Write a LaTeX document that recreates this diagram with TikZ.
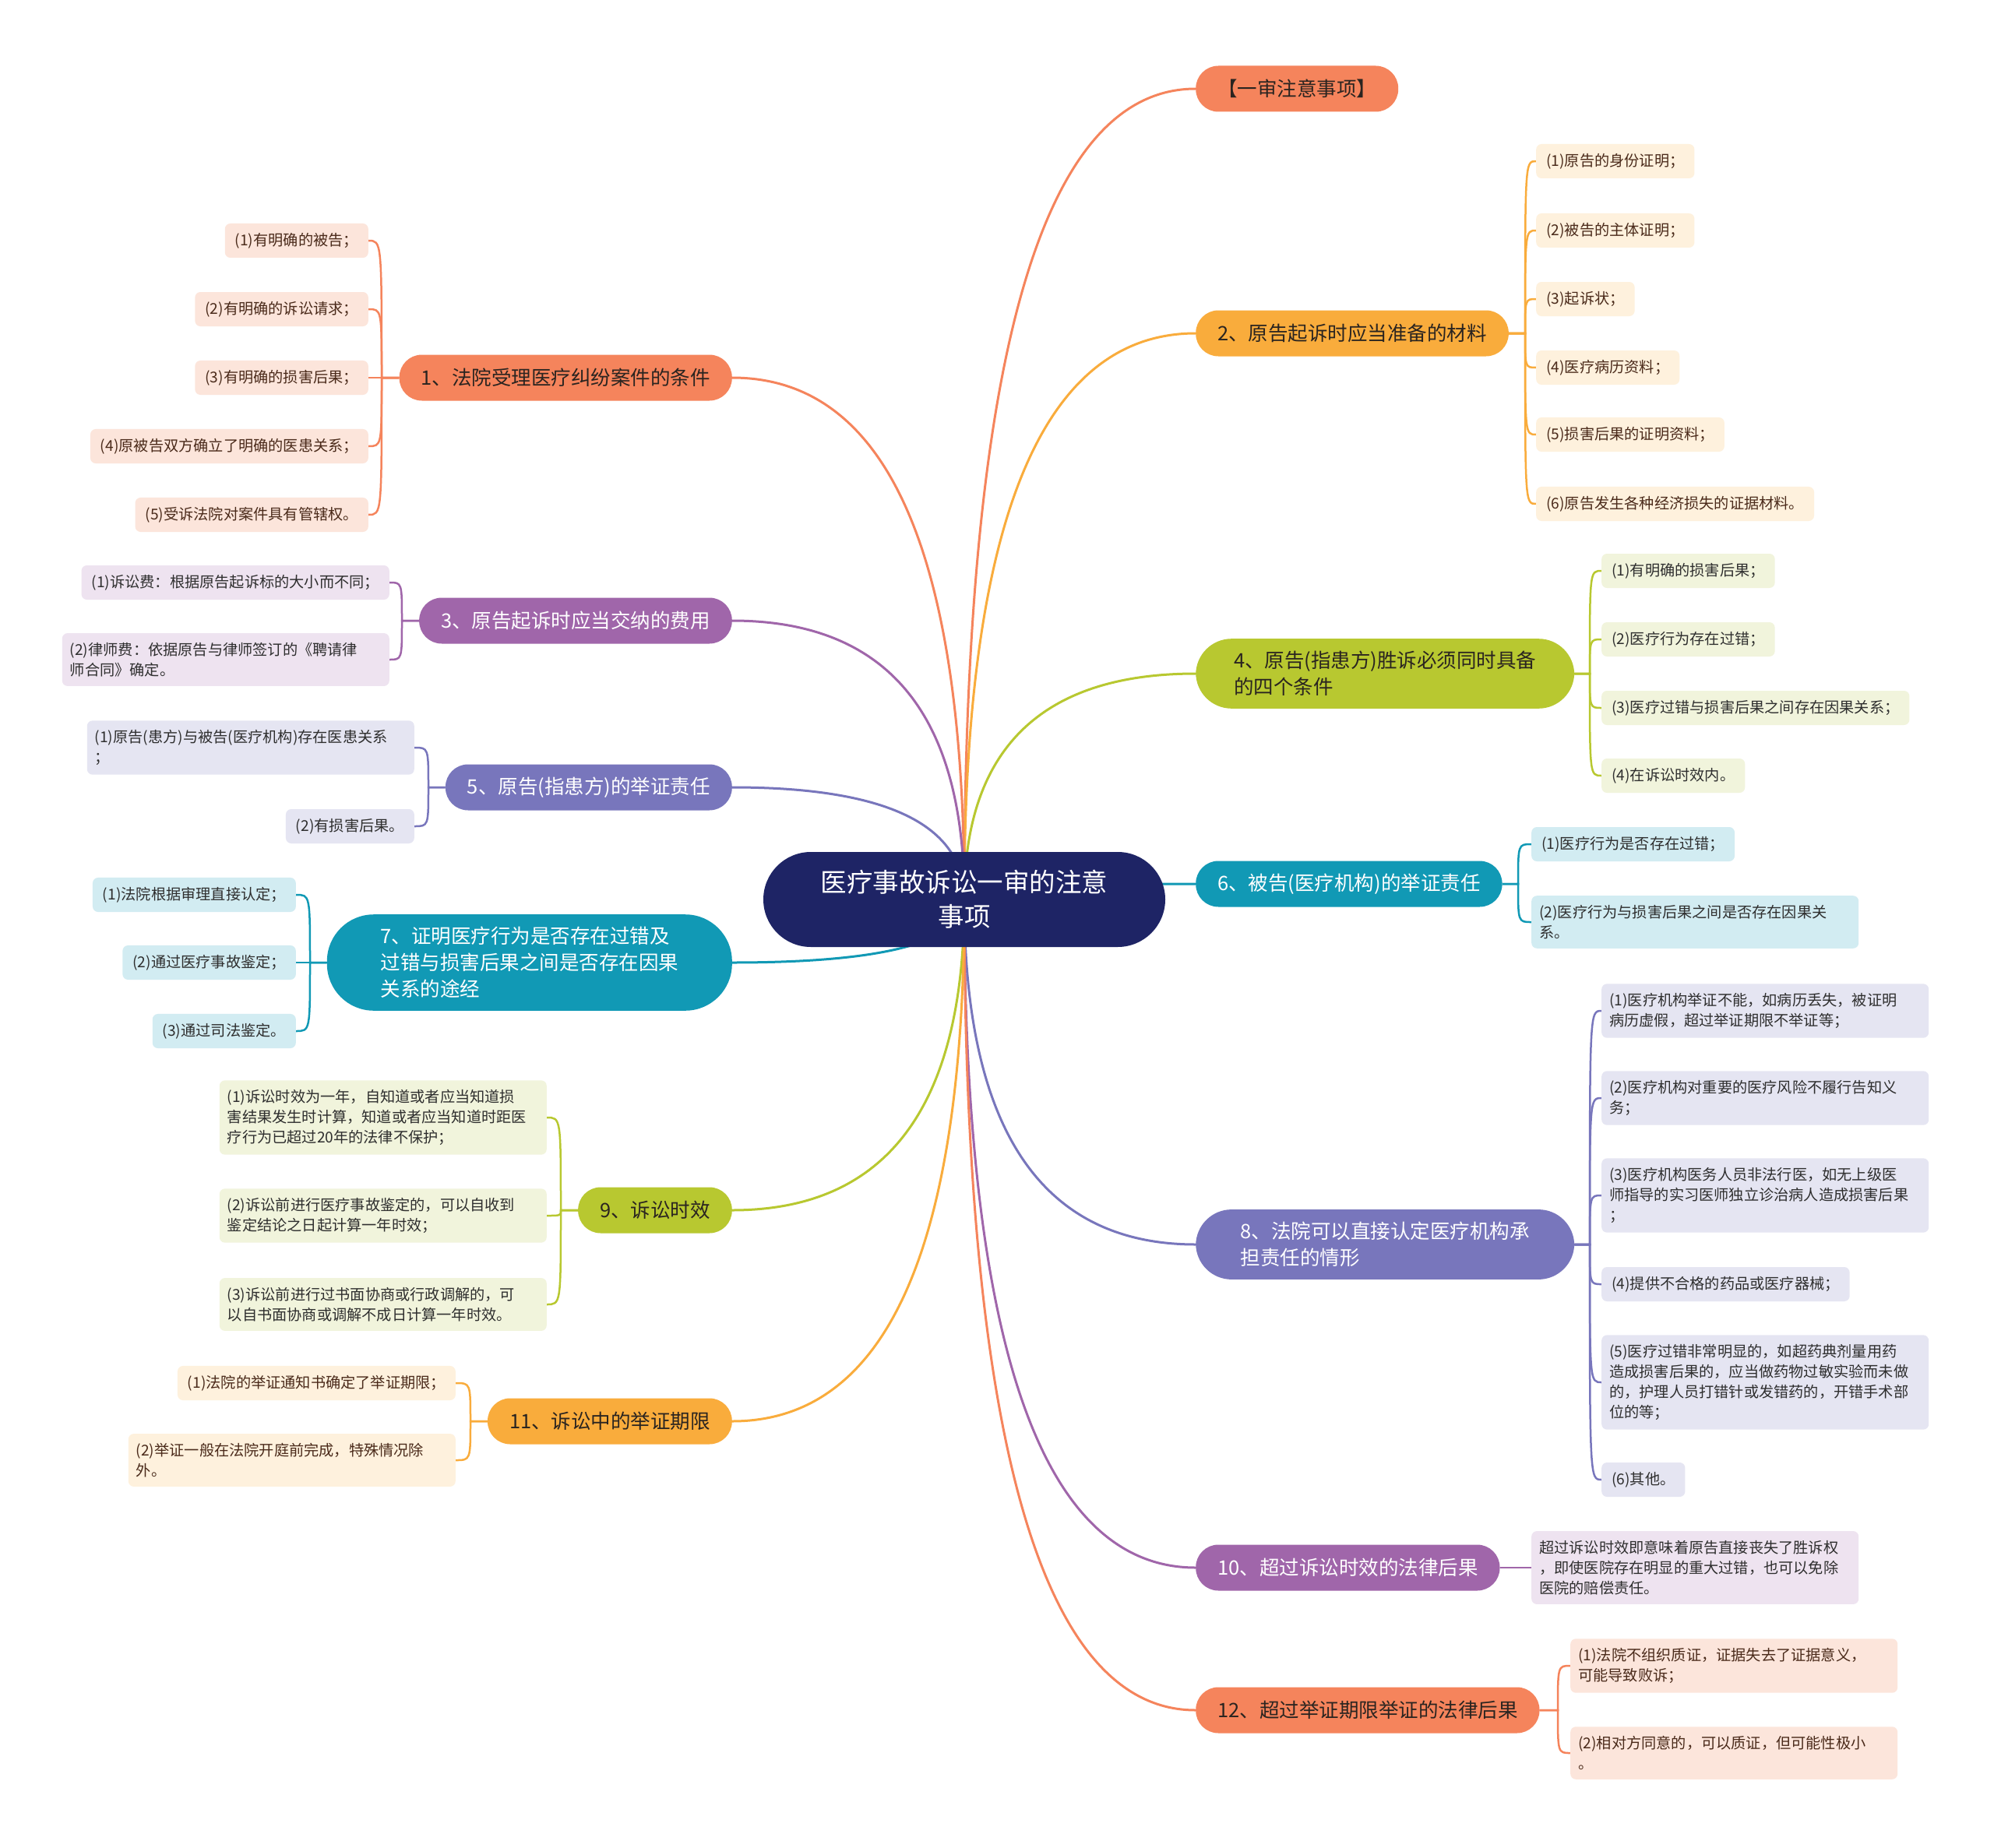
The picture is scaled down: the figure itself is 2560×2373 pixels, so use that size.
\documentclass[tikz,border=0pt]{standalone}
\usepackage{fontspec}
\setmainfont{Noto Sans CJK SC}
\usetikzlibrary{calc}
\pgfdeclarelayer{back}
\pgfdeclarelayer{bg}
\pgfsetlayers{back,bg,main}
\definecolor{rootc}{HTML}{1E2465}
\definecolor{sal}{HTML}{F5845C}\definecolor{salL}{HTML}{FCE5DB}
\definecolor{org}{HTML}{F9AC3C}\definecolor{orgL}{HTML}{FEF1DD}
\definecolor{pur}{HTML}{A066AA}\definecolor{purL}{HTML}{EEE3F0}
\definecolor{grn}{HTML}{B8C830}\definecolor{grnL}{HTML}{F1F4DC}
\definecolor{vio}{HTML}{7876BC}\definecolor{vioL}{HTML}{E5E5F2}
\definecolor{tea}{HTML}{1199B5}\definecolor{teaL}{HTML}{D2ECF2}
\definecolor{dk}{HTML}{2A2420}\definecolor{brn}{HTML}{4A2A1A}\definecolor{gry}{HTML}{2E2E2E}
\newcommand\rootfnt{\fontsize{33.5}{44}\selectfont}
\newcommand\brfnt{\fontsize{25.5}{34}\selectfont}
\newcommand\lffnt{\fontsize{19.2}{26}\selectfont}
\newcommand\mlink[2]{\draw[mainedge,#1] (rc) .. controls ($(rc)!2/3!(rc |- #2)$) and ($(#2)!2/3!(rc |- #2)$) .. (#2);}
\newcommand\blink[4]{\draw[leafedge,#1] (#2) -- (#2 -| #3) .. controls (#3 |- #4) .. (#4);}
\tikzset{
  rootnode/.style={fill=rootc, text=white, font=\rootfnt, rounded corners=61pt, minimum width=516pt, minimum height=122pt, align=center, inner sep=0pt},
  br/.style={rounded corners=29pt, minimum height=59pt, inner xsep=28pt, inner ysep=16pt, font=\brfnt},
  brR/.style={br, anchor=west},
  brL/.style={br, anchor=east},
  lf/.style={rounded corners=7pt, minimum height=44pt, inner xsep=13pt, inner ysep=12pt, font=\lffnt},
  lfw/.style={lf, inner xsep=10pt, text width=400pt, align=left},
  mainedge/.style={line width=3pt},
  leafedge/.style={line width=2.5pt},
}
\begin{document}
\begin{tikzpicture}[x=1pt, y=-1pt]
\begin{pgfonlayer}{back}
\fill[white] (0,0) rectangle (2560,2373);
\end{pgfonlayer}
\useasboundingbox (0,0) rectangle (2560,2373);
% root
\node[rootnode] (root) at (1238,1155) {医疗事故诉讼一审的注意\\事项};
\coordinate (rc) at (1238,1155);
% right branches
\node[brR, fill=sal, text=dk] (R0) at (1535,114) {【一审注意事项】};
\node[brR, fill=org, text=dk] (R2) at (1535,428) {2、原告起诉时应当准备的材料};
\node[brR, fill=grn, text=dk, rounded corners=46pt, minimum width=486pt, align=left] (R4) at (1535,865) {4、原告(指患方)胜诉必须同时具备\\的四个条件};
\node[brR, fill=tea, text=white] (R6) at (1535,1135) {6、被告(医疗机构)的举证责任};
\node[brR, fill=vio, text=white, rounded corners=46pt, minimum width=486pt, align=left] (R8) at (1535,1598) {8、法院可以直接认定医疗机构承\\担责任的情形};
\node[brR, fill=pur, text=white] (R10) at (1535,2013) {10、超过诉讼时效的法律后果};
\node[brR, fill=sal, text=dk] (R12) at (1535,2196) {12、超过举证期限举证的法律后果};
% left branches
\node[brL, fill=sal, text=dk] (L1) at (940,485) {1、法院受理医疗纠纷案件的条件};
\node[brL, fill=pur, text=white] (L3) at (940,797) {3、原告起诉时应当交纳的费用};
\node[brL, fill=vio, text=white] (L5) at (940,1011) {5、原告(指患方)的举证责任};
\node[brL, fill=tea, text=white, rounded corners=60pt, minimum width=520pt, align=left] (L7) at (940,1236) {7、证明医疗行为是否存在过错及\\过错与损害后果之间是否存在因果\\关系的途经};
\node[brL, fill=grn, text=dk] (L9) at (940,1554) {9、诉讼时效};
\node[brL, fill=org, text=dk] (L11) at (940,1825) {11、诉讼中的举证期限};
% leaves L1
\coordinate (bL1) at (490,0);
\node[lf, fill=salL, text=brn, anchor=east] (L1a) at (473,309) {(1)有明确的被告；};
\node[lf, fill=salL, text=brn, anchor=east] (L1b) at (473,397) {(2)有明确的诉讼请求；};
\node[lf, fill=salL, text=brn, anchor=east] (L1c) at (473,485) {(3)有明确的损害后果；};
\node[lf, fill=salL, text=brn, anchor=east] (L1d) at (473,573) {(4)原被告双方确立了明确的医患关系；};
\node[lf, fill=salL, text=brn, anchor=east] (L1e) at (473,661) {(5)受诉法院对案件具有管辖权。};
% leaves L3
\coordinate (bL3) at (516,0);
\node[lf, fill=purL, text=gry, anchor=east] (L3a) at (500,748) {(1)诉讼费：根据原告起诉标的大小而不同；};
\node[lfw, fill=purL, text=gry, anchor=east] (L3b) at (500,847) {(2)律师费：依据原告与律师签订的《聘请律\\师合同》确定。};
% leaves L5
\coordinate (bL5) at (550,0);
\node[lfw, fill=vioL, text=gry, anchor=east] (L5a) at (532,960) {(1)原告(患方)与被告(医疗机构)存在医患关系\\；};
\node[lf, fill=vioL, text=gry, anchor=east] (L5b) at (532,1061) {(2)有损害后果。};
% leaves L7
\coordinate (bL7) at (398,0);
\node[lf, fill=teaL, text=gry, anchor=east] (L7a) at (380,1149) {(1)法院根据审理直接认定；};
\node[lf, fill=teaL, text=gry, anchor=east] (L7b) at (380,1236) {(2)通过医疗事故鉴定；};
\node[lf, fill=teaL, text=gry, anchor=east] (L7c) at (380,1324) {(3)通过司法鉴定。};
% leaves L9
\coordinate (bL9) at (720,0);
\node[lfw, fill=grnL, text=gry, anchor=east] (L9a) at (702,1435) {(1)诉讼时效为一年，自知道或者应当知道损\\害结果发生时计算，知道或者应当知道时距医\\疗行为已超过20年的法律不保护；};
\node[lfw, fill=grnL, text=gry, anchor=east] (L9b) at (702,1561) {(2)诉讼前进行医疗事故鉴定的，可以自收到\\鉴定结论之日起计算一年时效；};
\node[lfw, fill=grnL, text=gry, anchor=east] (L9c) at (702,1675) {(3)诉讼前进行过书面协商或行政调解的，可\\以自书面协商或调解不成日计算一年时效。};
% leaves L11
\coordinate (bL11) at (604,0);
\node[lf, fill=orgL, text=brn, anchor=east] (L11a) at (585,1776) {(1)法院的举证通知书确定了举证期限；};
\node[lfw, fill=orgL, text=brn, anchor=east] (L11b) at (585,1875) {(2)举证一般在法院开庭前完成，特殊情况除\\外。};
% leaves R2
\coordinate (bR2) at (1958,0);
\node[lf, fill=orgL, text=brn, anchor=west] (R2a) at (1972,207) {(1)原告的身份证明；};
\node[lf, fill=orgL, text=brn, anchor=west] (R2b) at (1972,296) {(2)被告的主体证明；};
\node[lf, fill=orgL, text=brn, anchor=west] (R2c) at (1972,384) {(3)起诉状；};
\node[lf, fill=orgL, text=brn, anchor=west] (R2d) at (1972,472) {(4)医疗病历资料；};
\node[lf, fill=orgL, text=brn, anchor=west] (R2e) at (1972,558) {(5)损害后果的证明资料；};
\node[lf, fill=orgL, text=brn, anchor=west] (R2f) at (1972,647) {(6)原告发生各种经济损失的证据材料。};
% leaves R4
\coordinate (bR4) at (2041,0);
\node[lf, fill=grnL, text=gry, anchor=west] (R4a) at (2056,733) {(1)有明确的损害后果；};
\node[lf, fill=grnL, text=gry, anchor=west] (R4b) at (2056,821) {(2)医疗行为存在过错；};
\node[lf, fill=grnL, text=gry, anchor=west] (R4c) at (2056,909) {(3)医疗过错与损害后果之间存在因果关系；};
\node[lf, fill=grnL, text=gry, anchor=west] (R4d) at (2056,996) {(4)在诉讼时效内。};
% leaves R6
\coordinate (bR6) at (1949,0);
\node[lf, fill=teaL, text=gry, anchor=west] (R6a) at (1966,1084) {(1)医疗行为是否存在过错；};
\node[lfw, fill=teaL, text=gry, anchor=west] (R6b) at (1966,1184) {(2)医疗行为与损害后果之间是否存在因果关\\系。};
% leaves R8
\coordinate (bR8) at (2041,0);
\node[lfw, fill=vioL, text=gry, anchor=west] (R8a) at (2056,1298) {(1)医疗机构举证不能，如病历丢失，被证明\\病历虚假，超过举证期限不举证等；};
\node[lfw, fill=vioL, text=gry, anchor=west] (R8b) at (2056,1410) {(2)医疗机构对重要的医疗风险不履行告知义\\务；};
\node[lfw, fill=vioL, text=gry, anchor=west] (R8c) at (2056,1535) {(3)医疗机构医务人员非法行医，如无上级医\\师指导的实习医师独立诊治病人造成损害后果\\；};
\node[lf, fill=vioL, text=gry, anchor=west] (R8d) at (2056,1649) {(4)提供不合格的药品或医疗器械；};
\node[lfw, fill=vioL, text=gry, anchor=west] (R8e) at (2056,1775) {(5)医疗过错非常明显的，如超药典剂量用药\\造成损害后果的，应当做药物过敏实验而未做\\的，护理人员打错针或发错药的，开错手术部\\位的等；};
\node[lf, fill=vioL, text=gry, anchor=west] (R8f) at (2056,1900) {(6)其他。};
% leaf R10
\node[lfw, fill=purL, text=gry, anchor=west] (R10a) at (1966,2013) {超过诉讼时效即意味着原告直接丧失了胜诉权\\，即使医院存在明显的重大过错，也可以免除\\医院的赔偿责任。};
% leaves R12
\coordinate (bR12) at (2000,0);
\node[lfw, fill=salL, text=brn, anchor=west] (R12a) at (2016,2139) {(1)法院不组织质证，证据失去了证据意义，\\可能导致败诉；};
\node[lfw, fill=salL, text=brn, anchor=west] (R12b) at (2016,2251) {(2)相对方同意的，可以质证，但可能性极小\\。};
\begin{pgfonlayer}{bg}
% main links
\mlink{sal}{R0.west}
\mlink{org}{R2.west}
\mlink{grn}{R4.west}
\mlink{tea}{R6.west}
\mlink{vio}{R8.west}
\mlink{pur}{R10.west}
\mlink{sal}{R12.west}
\mlink{sal}{L1.east}
\mlink{pur}{L3.east}
\mlink{vio}{L5.east}
\mlink{tea}{L7.east}
\mlink{grn}{L9.east}
\mlink{org}{L11.east}
% leaf links
\foreach \c in {a,b,c,d,e}{\blink{sal}{L1.west}{bL1}{L1\c.east}}
\foreach \c in {a,b}{\blink{pur}{L3.west}{bL3}{L3\c.east}}
\foreach \c in {a,b}{\blink{vio}{L5.west}{bL5}{L5\c.east}}
\foreach \c in {a,b,c}{\blink{tea}{L7.west}{bL7}{L7\c.east}}
\foreach \c in {a,b,c}{\blink{grn}{L9.west}{bL9}{L9\c.east}}
\foreach \c in {a,b}{\blink{org}{L11.west}{bL11}{L11\c.east}}
\foreach \c in {a,b,c,d,e,f}{\blink{org}{R2.east}{bR2}{R2\c.west}}
\foreach \c in {a,b,c,d}{\blink{grn}{R4.east}{bR4}{R4\c.west}}
\foreach \c in {a,b}{\blink{tea}{R6.east}{bR6}{R6\c.west}}
\foreach \c in {a,b,c,d,e,f}{\blink{vio}{R8.east}{bR8}{R8\c.west}}
\draw[leafedge,pur] (R10.east) -- (R10a.west);
\foreach \c in {a,b}{\blink{sal}{R12.east}{bR12}{R12\c.west}}
\end{pgfonlayer}
\end{tikzpicture}
\end{document}
